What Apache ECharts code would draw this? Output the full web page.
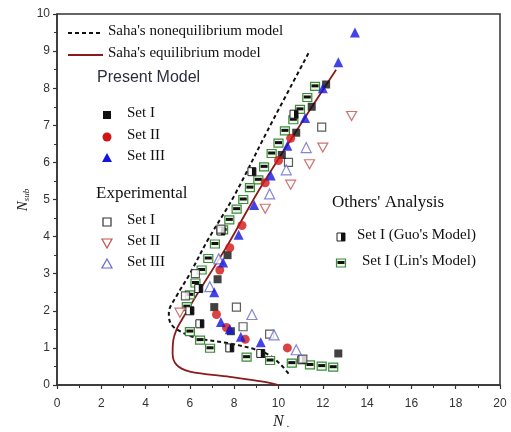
<!DOCTYPE html>
<html><head><meta charset="utf-8">
<script src="https://cdn.jsdelivr.net/npm/echarts@6/dist/echarts.min.js"></script>
<style>html,body{margin:0;padding:0;background:#fff}#c{width:511px;height:432px}</style>
</head><body><div id="c"></div>
<script>
// ---- data (N, N_sub) ----
const xTicks = [0,2,4,6,8,10,12,14,16,18,20];
const yTicks = [0,1,2,3,4,5,6,7,8,9,10];
const presentSet1 = [[12.15,8.1],[11.5,7.5],[10.8,6.8],[10.15,6.2],[7.7,3.5],[7.25,2.85],[7.1,2.1],[7.85,1.45],[12.7,0.85]];
const presentSet2 = [[10.55,6.65],[10.0,6.05],[9.4,5.45],[8.35,4.3],[7.8,3.7],[7.35,3.1],[7.2,1.9],[7.65,1.55],[8.5,1.23],[10.4,1.0]];
const presentSet3 = [[13.45,9.5],[12.7,8.7],[12.0,8.0],[11.2,7.2],[10.4,6.45],[9.65,5.65],[8.9,4.85],[8.2,4.05],[7.5,3.3],[7.1,2.5],[7.4,1.7],[7.8,1.5],[8.3,1.3],[9.2,1.15]];
const expSet1 = [[11.95,6.95],[10.45,6.0],[7.4,4.2],[6.25,3.0],[5.8,2.4],[8.1,2.1],[8.4,1.57],[9.6,1.37],[11.1,0.7]];
const expSet2 = [[13.3,7.25],[12.0,6.4],[11.4,5.95],[10.55,5.4],[9.4,4.75],[5.55,1.95]];
const expSet3 = [[11.25,6.4],[10.35,5.8],[9.6,5.15],[7.3,3.4],[6.9,2.65],[8.8,1.9],[9.8,1.35],[10.8,0.95]];
const guoSet1 = [[10.7,7.3],[8.8,5.75],[7.4,4.15],[6.4,2.6],[6.0,2.0],[6.45,1.65],[7.8,1.0],[9.2,0.85],[11.05,0.68]];
const linSet1 = [[11.65,8.05],[11.3,7.75],[10.97,7.43],[10.67,7.15],[10.29,6.85],[10.0,6.52],[9.69,6.24],[9.35,5.88],[9.09,5.53],[8.71,5.32],[8.41,5.0],[8.11,4.74],[7.78,4.45],[7.5,4.18],[7.13,3.8],[6.83,3.41],[6.53,3.1],[6.25,2.75],[6.0,2.43],[5.86,2.11],[6.0,1.44],[6.46,1.21],[6.91,0.99],[8.56,0.75],[9.62,0.66],[10.6,0.59],[11.42,0.54],[11.95,0.51],[12.47,0.48]];
const nonEqModel = [[11.35,8.94],[9.5,6.85],[8.0,5.1],[6.8,3.9],[6.0,3.0],[5.4,2.4],[5.05,1.95],[5.1,1.7],[5.4,1.5],[6.3,1.27],[7.8,1.12],[9.0,0.95],[9.6,0.8],[10.1,0.55],[10.5,0.27]];
const eqModel = [[12.6,8.5],[9.3,5.43],[7.66,3.73],[6.31,2.43],[5.63,1.75],[5.4,1.5],[5.25,1.2],[5.22,0.85],[5.4,0.54],[6.0,0.36],[7.8,0.22],[9.3,0.09],[10.0,0.0]];

const legendLines = ["Saha's nonequilibrium model","Saha's equilibrium model"];
const headings = ["Present Model","Experimental","Others' Analysis"];
const setNames = ["Set I","Set II","Set III"];
const othersNames = ["Set I (Guo's Model)","Set I (Lin's Model)"];

const SERIF = '"Liberation Serif","Times New Roman",serif';
const SANS = '"Liberation Sans",Arial,sans-serif';

const chart = echarts.init(document.getElementById('c'), null, {renderer:'canvas'});

function guoItem(params, api){
  const p = api.coord([api.value(0), api.value(1)]);
  return {type:'group', children:[
    {type:'rect', shape:{x:p[0]-4,y:p[1]-4,width:8,height:8}, style:{fill:'#fff',stroke:'#222',lineWidth:1}},
    {type:'rect', shape:{x:p[0],y:p[1]-4,width:4,height:8}, style:{fill:'#111'}}
  ]};
}
function linItem(params, api){
  const p = api.coord([api.value(0), api.value(1)]);
  return {type:'group', children:[
    {type:'rect', shape:{x:p[0]-4.5,y:p[1]-4,width:9,height:8}, style:{fill:'#eef7ea',stroke:'#3c8c3c',lineWidth:1.2}},
    {type:'rect', shape:{x:p[0]-3.5,y:p[1]-2,width:7,height:3}, style:{fill:'#111'}}
  ]};
}

const downTri = 'path://M0,0 L10,0 L5,9 Z';

// legend graphics
const g = [];
g.push({type:'line', shape:{x1:68,y1:33,x2:101,y2:33}, style:{stroke:'#111',lineWidth:2,lineDash:[4,3]}});
g.push({type:'text', left:108, top:24, style:{text:legendLines[0], font:'15px '+SERIF, fill:'#111'}});
g.push({type:'line', shape:{x1:68,y1:55,x2:103,y2:55}, style:{stroke:'#8b1a1a',lineWidth:1.8}});
g.push({type:'text', left:108, top:46, style:{text:legendLines[1], font:'15px '+SERIF, fill:'#111'}});
g.push({type:'text', left:97, top:70, style:{text:headings[0], font:'16px '+SANS, fill:'#2a2f40'}});
// present markers
g.push({type:'rect', shape:{x:103,y:111,width:8,height:8}, style:{fill:'#111'}});
g.push({type:'circle', shape:{cx:107,cy:137,r:4.5}, style:{fill:'#d11414'}});
g.push({type:'polygon', shape:{points:[[107,153],[112,162],[102,162]]}, style:{fill:'#1414e0'}});
[115,137,158].forEach((y,i)=>g.push({type:'text', left:127, top:y-9, style:{text:setNames[i], font:'15px '+SERIF, fill:'#111'}}));
g.push({type:'text', left:96, top:185, style:{text:headings[1], font:'17px '+SERIF, fill:'#111'}});
g.push({type:'rect', shape:{x:103,y:218,width:8,height:8}, style:{fill:'#fff',stroke:'#333',lineWidth:1.2}});
g.push({type:'polygon', shape:{points:[[102,239],[112,239],[107,248]]}, style:{fill:'#fff',stroke:'#c0504d',lineWidth:1.2}});
g.push({type:'polygon', shape:{points:[[107,259],[112,268],[102,268]]}, style:{fill:'#fff',stroke:'#6666cc',lineWidth:1.2}});
[222,243,264].forEach((y,i)=>g.push({type:'text', left:127, top:y-9, style:{text:setNames[i], font:'15px '+SERIF, fill:'#111'}}));
g.push({type:'text', left:332, top:194, style:{text:headings[2], font:'17px '+SERIF, fill:'#111'}});
g.push({type:'rect', shape:{x:337,y:233,width:8,height:8}, style:{fill:'#fff',stroke:'#222',lineWidth:1}});
g.push({type:'rect', shape:{x:341,y:233,width:4,height:8}, style:{fill:'#111'}});
g.push({type:'text', left:357, top:228, style:{text:othersNames[0], font:'15px '+SERIF, fill:'#111'}});
g.push({type:'rect', shape:{x:336.5,y:259,width:9,height:8}, style:{fill:'#eef7ea',stroke:'#3c8c3c',lineWidth:1.2}});
g.push({type:'rect', shape:{x:337.5,y:261,width:7,height:3}, style:{fill:'#111'}});
g.push({type:'text', left:362, top:254, style:{text:othersNames[1], font:'15px '+SERIF, fill:'#111'}});
// axis titles
g.push({type:'text', left:273, top:414, style:{text:'{n|N}{s| .}', rich:{n:{font:'italic 16px '+SERIF, fill:'#222'}, s:{font:'11px '+SERIF, fill:'#222', padding:[4,0,0,0]}}}});
g.push({type:'text', x:23, y:200, rotation:Math.PI/2, style:{text:'{n|N}{s|sub}', align:'center', verticalAlign:'middle', rich:{n:{font:'italic 15px '+SERIF, fill:'#222'}, s:{font:'italic 9px '+SERIF, fill:'#222', padding:[7,0,0,0]}}}});

const axisCommon = {
  axisLine:{show:true, onZero:false, lineStyle:{color:'#333', width:1.5}},
  axisTick:{show:true, inside:false, length:4, lineStyle:{color:'#333', width:1.2}},
  minorTick:{show:true, splitNumber:2, length:3, lineStyle:{color:'#333', width:1}},
  splitLine:{show:false}
};

chart.setOption({
  animation:false,
  grid:{left:57, right:11, top:14, bottom:47, show:true, borderColor:'#333', borderWidth:1.5},
  xAxis:Object.assign({type:'value', min:xTicks[0], max:xTicks[xTicks.length-1], interval:2}, axisCommon, {axisLabel:{color:'#333', fontFamily:SANS, fontSize:12, margin:13}}),
  yAxis:Object.assign({type:'value', min:yTicks[0], max:yTicks[yTicks.length-1], interval:1}, axisCommon, {axisLabel:{color:'#333', fontFamily:SANS, fontSize:12, margin:7}}),
  graphic:g,
  series:[
    {type:'line', data:eqModel, smooth:0.35, symbol:'none', lineStyle:{color:'#8b1a1a', width:1.8}, z:2},
    {type:'line', data:nonEqModel, smooth:0.35, symbol:'none', lineStyle:{color:'#111', width:2, type:[4,3]}, z:2},
    {type:'custom', data:linSet1, renderItem:linItem, encode:{x:0,y:1}, z:3},
    {type:'custom', data:guoSet1, renderItem:guoItem, encode:{x:0,y:1}, z:3},
    {type:'scatter', data:expSet1, symbol:'rect', symbolSize:8, itemStyle:{color:'#fff', borderColor:'#333', borderWidth:1.2}, z:4},
    {type:'scatter', data:expSet2, symbol:downTri, symbolSize:[10,9], itemStyle:{color:'#fff', borderColor:'#c0504d', borderWidth:1.2}, z:4},
    {type:'scatter', data:expSet3, symbol:'triangle', symbolSize:10, itemStyle:{color:'#fff', borderColor:'#6666cc', borderWidth:1.2}, z:4},
    {type:'scatter', data:presentSet1, symbol:'rect', symbolSize:8, itemStyle:{color:'#111'}, z:5},
    {type:'scatter', data:presentSet2, symbol:'circle', symbolSize:9, itemStyle:{color:'#d11414'}, z:5},
    {type:'scatter', data:presentSet3, symbol:'triangle', symbolSize:10, itemStyle:{color:'#1414e0'}, z:5}
  ]
});
</script></body></html>
